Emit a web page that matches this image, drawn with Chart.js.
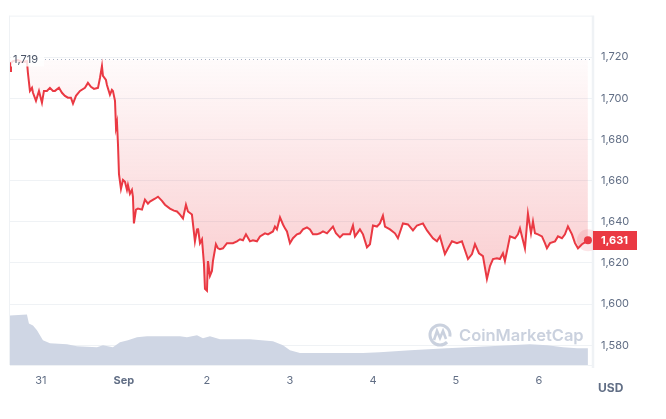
<!DOCTYPE html>
<html>
<head>
<meta charset="utf-8">
<script src="https://cdn.jsdelivr.net/npm/chart.js@4.4.0/dist/chart.umd.min.js"></script>
<style>
  html, body { margin: 0; padding: 0; background: #fff; }
  #wrap { width: 666px; height: 419px; }
</style>
</head>
<body>
<div id="wrap"><canvas id="myChart" width="666" height="419"></canvas></div>
<script>
'use strict';
// days counted from Aug 31 00:00
var priceDays = [-0.373, -0.361, -0.337, -0.277, -0.229, -0.169, -0.157, -0.133, -0.108, -0.096, -0.060, -0.024, 0.012, 0.036, 0.072, 0.108, 0.145, 0.169, 0.217, 0.253, 0.289, 0.325, 0.361, 0.386, 0.422, 0.470, 0.530, 0.566, 0.602, 0.639, 0.687, 0.711, 0.735, 0.747, 0.783, 0.795, 0.831, 0.855, 0.867, 0.892, 0.904, 0.916, 0.928, 0.940, 0.964, 0.988, 1.012, 1.036, 1.048, 1.072, 1.096, 1.108, 1.120, 1.145, 1.169, 1.217, 1.253, 1.289, 1.313, 1.373, 1.410, 1.458, 1.494, 1.554, 1.602, 1.639, 1.675, 1.711, 1.747, 1.771, 1.819, 1.855, 1.880, 1.892, 1.916, 1.940, 1.964, 1.976, 2.000, 2.012, 2.036, 2.060, 2.072, 2.108, 2.133, 2.157, 2.193, 2.241, 2.277, 2.313, 2.361, 2.398, 2.434, 2.470, 2.518, 2.554, 2.602, 2.639, 2.699, 2.735, 2.795, 2.819, 2.843, 2.880, 2.916, 2.940, 2.964, 3.000, 3.036, 3.084, 3.120, 3.157, 3.205, 3.241, 3.277, 3.325, 3.361, 3.398, 3.446, 3.518, 3.554, 3.602, 3.639, 3.687, 3.723, 3.759, 3.783, 3.843, 3.880, 3.928, 3.964, 4.000, 4.048, 4.084, 4.120, 4.145, 4.205, 4.265, 4.301, 4.361, 4.422, 4.482, 4.530, 4.602, 4.651, 4.687, 4.723, 4.771, 4.807, 4.867, 4.904, 4.952, 5.012, 5.072, 5.084, 5.145, 5.193, 5.229, 5.277, 5.325, 5.373, 5.410, 5.446, 5.494, 5.530, 5.566, 5.590, 5.651, 5.711, 5.747, 5.771, 5.831, 5.867, 5.904, 5.928, 5.952, 5.988, 6.036, 6.072, 6.096, 6.133, 6.193, 6.229, 6.277, 6.313, 6.349, 6.398, 6.434, 6.470, 6.518, 6.554, 6.590];
var priceValues = [1713.3, 1717.1, 1718.1, 1718.6, 1717.6, 1718.1, 1712.3, 1703.6, 1705.1, 1702.7, 1698.8, 1703.6, 1697.9, 1703.6, 1703.6, 1705.1, 1703.6, 1703.6, 1705.1, 1702.7, 1701.2, 1700.3, 1700.3, 1697.4, 1701.2, 1703.6, 1705.1, 1707.5, 1705.6, 1704.6, 1705.1, 1709.9, 1715.7, 1710.9, 1708.9, 1706.5, 1701.7, 1704.1, 1703.6, 1698.8, 1685.8, 1688.2, 1677.7, 1663.2, 1656.0, 1660.3, 1659.4, 1655.5, 1657.9, 1653.6, 1655.5, 1652.2, 1639.2, 1645.9, 1646.4, 1645.9, 1650.7, 1648.8, 1649.8, 1651.2, 1652.2, 1650.2, 1648.3, 1646.4, 1645.4, 1645.0, 1643.5, 1641.6, 1648.3, 1645.0, 1643.5, 1630.5, 1636.3, 1636.8, 1629.6, 1631.5, 1619.4, 1607.4, 1606.5, 1620.9, 1613.7, 1616.1, 1620.9, 1629.1, 1627.1, 1626.7, 1627.1, 1629.6, 1629.6, 1629.6, 1630.5, 1631.5, 1631.0, 1633.9, 1630.5, 1631.0, 1630.5, 1632.9, 1634.4, 1633.9, 1635.3, 1637.7, 1636.3, 1642.1, 1638.7, 1636.8, 1635.3, 1629.6, 1632.0, 1633.9, 1634.4, 1636.3, 1637.3, 1636.3, 1633.9, 1633.9, 1634.4, 1635.3, 1634.4, 1637.7, 1634.4, 1632.4, 1633.9, 1633.9, 1633.9, 1638.2, 1632.9, 1636.3, 1633.9, 1627.6, 1629.1, 1638.2, 1637.7, 1639.2, 1643.0, 1637.7, 1636.3, 1634.4, 1632.0, 1639.2, 1638.7, 1635.8, 1638.2, 1639.2, 1635.8, 1633.9, 1632.0, 1630.5, 1632.9, 1624.3, 1627.1, 1630.5, 1629.6, 1630.5, 1629.1, 1621.9, 1624.3, 1629.1, 1624.7, 1623.3, 1612.2, 1618.5, 1621.9, 1622.3, 1621.9, 1624.7, 1620.9, 1632.9, 1632.0, 1633.9, 1636.8, 1627.1, 1644.0, 1634.4, 1640.1, 1634.4, 1633.9, 1632.9, 1629.6, 1627.1, 1629.6, 1630.5, 1632.9, 1632.0, 1633.9, 1637.7, 1633.9, 1629.6, 1627.1, 1629.1, 1630.0, 1631.0];
// 24h volume, billions USD
var volumeDays = [-0.373, -0.169, -0.145, -0.096, -0.048, -0.012, 0.024, 0.108, 0.313, 0.434, 0.675, 0.747, 0.867, 0.952, 1.048, 1.157, 1.277, 1.675, 1.759, 1.880, 1.952, 2.036, 2.157, 2.518, 2.795, 2.916, 3.000, 3.120, 3.480, 3.880, 4.080, 4.450, 4.890, 5.410, 5.890, 6.100, 6.290, 6.460, 6.590];
var volumeValues = [8.5, 8.67, 7.14, 6.8, 5.95, 5.1, 4.25, 3.74, 3.57, 3.23, 3.06, 3.4, 3.06, 3.91, 4.25, 4.76, 4.93, 4.93, 4.76, 5.1, 4.59, 4.93, 4.42, 4.42, 4.08, 3.4, 2.55, 2.04, 2.04, 2.04, 2.21, 2.55, 2.89, 3.23, 3.57, 3.4, 3.06, 2.89, 2.89];
var xTickDays = [0, 1, 2, 3, 4, 5, 6];
var xTickLabels = ['31', 'Sep', '2', '3', '4', '5', '6'];
var yTickValues = [1580, 1600, 1620, 1640, 1660, 1680, 1700, 1720];
var openPrice = 1719;
var lastPrice = 1631;

var red = '#ea3943';
var textGrey = '#616e85';
var gridColor = '#eff2f5';
var fontFamily = 'Inter, "Noto Sans", sans-serif';

function toPoints(xs, ys) {
  var out = [];
  for (var i = 0; i < xs.length; i++) {
    out.push({ x: xs[i], y: ys[i] });
  }
  return out;
}

function fillGradient(context) {
  var chart = context.chart;
  var area = chart.chartArea;
  if (!area) {
    return null;
  }
  var top = chart.scales.y.getPixelForValue(openPrice);
  var g = chart.ctx.createLinearGradient(0, top, 0, top + 240);
  g.addColorStop(0, 'rgba(234,57,67,0.02)');
  g.addColorStop(1, 'rgba(234,57,67,0.27)');
  return g;
}

var overlayPlugin = {
  id: 'overlay',
  beforeDatasetsDraw: function (chart) {
    var ctx = chart.ctx;
    var a = chart.chartArea;
    ctx.save();
    // frame
    ctx.strokeStyle = gridColor;
    ctx.lineWidth = 1;
    ctx.beginPath();
    ctx.moveTo(a.left - 0.5, a.top + 0.5);
    ctx.lineTo(a.right, a.top + 0.5);
    ctx.moveTo(a.left - 0.5, a.top);
    ctx.lineTo(a.left - 0.5, a.bottom);
    ctx.moveTo(a.left, a.bottom + 0.5);
    ctx.lineTo(a.right, a.bottom + 0.5);
    ctx.stroke();
    ctx.lineWidth = 2.5;
    ctx.beginPath();
    ctx.moveTo(a.right + 1, a.top);
    ctx.lineTo(a.right + 1, a.bottom + 3);
    ctx.stroke();

    // watermark
    ctx.strokeStyle = 'rgba(196,204,218,0.9)';
    ctx.lineWidth = 3;
    ctx.beginPath();
    ctx.arc(440, 335, 10, 0.25 * Math.PI, 2.05 * Math.PI);
    ctx.stroke();
    ctx.lineWidth = 2.6;
    ctx.beginPath();
    ctx.moveTo(434, 340);
    ctx.lineTo(437, 331);
    ctx.lineTo(440, 338);
    ctx.lineTo(443, 331);
    ctx.lineTo(446, 339);
    ctx.stroke();
    ctx.fillStyle = 'rgba(196,204,218,0.9)';
    ctx.font = '600 16.5px ' + fontFamily;
    ctx.textBaseline = 'middle';
    ctx.textAlign = 'left';
    ctx.fillText('CoinMarketCap', 459, 336);
    ctx.restore();
  },
  afterDatasetsDraw: function (chart) {
    var ctx = chart.ctx;
    var a = chart.chartArea;
    var yOpen = Math.round(chart.scales.y.getPixelForValue(openPrice)) + 0.5;
    ctx.save();
    // open price line and label
    ctx.strokeStyle = '#a6b0c3';
    ctx.lineWidth = 1;
    ctx.setLineDash([1, 3]);
    ctx.beginPath();
    ctx.moveTo(45, yOpen);
    ctx.lineTo(a.right, yOpen);
    ctx.stroke();
    ctx.setLineDash([]);
    ctx.fillStyle = 'rgba(255,255,255,0.82)';
    ctx.fillRect(a.left + 1, yOpen - 8, 33, 15);
    ctx.fillStyle = '#4b5568';
    ctx.font = '11px ' + fontFamily;
    ctx.textBaseline = 'middle';
    ctx.fillText('1,719', a.left + 3, yOpen);

    // last point halo
    var meta = chart.getDatasetMeta(1);
    var last = meta.data[meta.data.length - 1];
    ctx.fillStyle = 'rgba(234,57,67,0.13)';
    ctx.beginPath();
    ctx.arc(last.x, last.y, 11, 0, 2 * Math.PI);
    ctx.fill();
    ctx.fillStyle = red;
    ctx.beginPath();
    ctx.arc(last.x, last.y, 4, 0, 2 * Math.PI);
    ctx.fill();
    ctx.restore();
  },
  afterDraw: function (chart) {
    var ctx = chart.ctx;
    var yLast = chart.scales.y.getPixelForValue(lastPrice);
    ctx.save();
    ctx.fillStyle = red;
    ctx.fillRect(593, Math.round(yLast) - 9, 44, 19);
    ctx.fillStyle = '#fff';
    ctx.font = 'bold 11px ' + fontFamily;
    ctx.textBaseline = 'middle';
    ctx.fillText(lastPrice.toLocaleString('en-US'), 601, Math.round(yLast) + 0.5);
    ctx.fillStyle = textGrey;
    ctx.font = 'bold 12px ' + fontFamily;
    ctx.fillText('USD', 598, 388);
    ctx.restore();
  }
};

var chartCtx = document.getElementById('myChart').getContext('2d');
var chart = new Chart(chartCtx, {
  type: 'line',
  data: {
    datasets: [{
      label: 'Volume',
      data: toPoints(volumeDays, volumeValues),
      yAxisID: 'y2',
      borderWidth: 0,
      backgroundColor: '#cfd6e4',
      fill: 'origin',
      pointRadius: 0,
      tension: 0,
      order: 2
    },
    {
      label: 'Price',
      data: toPoints(priceDays, priceValues),
      yAxisID: 'y',
      borderColor: red,
      borderWidth: 2,
      backgroundColor: fillGradient,
      fill: { target: { value: openPrice }, above: 'rgba(0,0,0,0)' },
      pointRadius: 0,
      tension: 0,
      order: 1
    }]
  },
  options: {
    responsive: false,
    animation: false,
    layout: { padding: { left: 10, top: 12, right: 0, bottom: 0 } },
    plugins: { legend: { display: false }, tooltip: { enabled: false } },
    scales: {
      x: {
        type: 'linear',
        min: -0.373,
        max: 6.639,
        grid: { display: false, drawTicks: false },
        border: { display: false },
        afterBuildTicks: function (scale) {
          scale.ticks = xTickDays.map(function (v) { return { value: v }; });
        },
        afterFit: function (scale) { scale.height = 54; },
        ticks: {
          padding: 9,
          maxRotation: 0,
          color: textGrey,
          font: function (c) {
            return { family: fontFamily, size: 11, weight: c.tick && c.tick.value === 1 ? 'bold' : 'normal' };
          },
          callback: function (value) {
            var i = xTickDays.indexOf(value);
            return i >= 0 ? xTickLabels[i] : '';
          }
        }
      },
      y: {
        position: 'right',
        min: 1570.4,
        max: 1740.2,
        grid: { color: gridColor, drawTicks: false },
        border: { display: false },
        afterBuildTicks: function (scale) {
          scale.ticks = yTickValues.map(function (v) { return { value: v }; });
        },
        afterFit: function (scale) { scale.width = 74; },
        ticks: {
          padding: 9,
          color: textGrey,
          font: { family: fontFamily, size: 11 },
          callback: function (value) { return value.toLocaleString('en-US'); }
        }
      },
      y2: {
        display: false,
        min: 0,
        max: 60
      }
    }
  },
  plugins: [overlayPlugin]
});
</script>
</body>
</html>
